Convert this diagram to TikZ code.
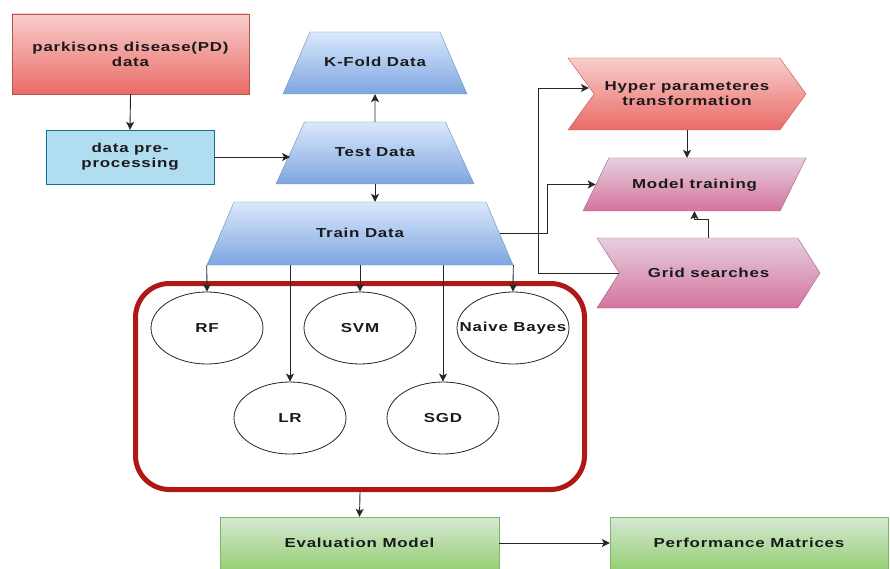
\documentclass[tikz,border=0pt]{standalone}
\usepackage{fontspec}
\setmainfont{Liberation Sans}[FakeStretch=1.3,LetterSpace=6]
\usetikzlibrary{shapes.geometric,shapes.symbols,arrows.meta,calc}
\definecolor{redT}{HTML}{F8CECC}
\definecolor{redB}{HTML}{EA6B66}
\definecolor{redS}{HTML}{B85450}
\definecolor{bluT}{HTML}{DAE8FC}
\definecolor{bluB}{HTML}{7EA6E0}
\definecolor{bluS}{HTML}{6C8EBF}
\definecolor{lbF}{HTML}{B1DDF0}
\definecolor{lbS}{HTML}{10739E}
\definecolor{pinT}{HTML}{E6D0DE}
\definecolor{pinB}{HTML}{D5739D}
\definecolor{pinS}{HTML}{996185}
\definecolor{grnT}{HTML}{D5E8D4}
\definecolor{grnB}{HTML}{97D077}
\definecolor{grnS}{HTML}{82B366}
\definecolor{frameR}{HTML}{B01818}
\definecolor{txt}{HTML}{1A1A1A}
\begin{document}
\begin{tikzpicture}[x=1pt,y=-1pt,
  base/.style={font=\fontsize{13}{15}\selectfont\bfseries, text=txt, align=center, inner sep=1pt},
  redbox/.style={base, rectangle, draw=redS, top color=redT, bottom color=redB},
  trapbase/.style={base, trapezium, trapezium stretches body=true, text height=11pt, text depth=3pt},
  bluetrap/.style={trapbase, draw=bluS, top color=bluT, bottom color=bluB},
  greenbox/.style={base, rectangle, draw=grnS, top color=grnT, bottom color=grnB},
  pinkshape/.style={base, draw=pinS, top color=pinT, bottom color=pinB},
  ell/.style={base, ellipse, draw=black!85, line width=0.8pt, fill=white, minimum width=112pt, minimum height=72pt, inner sep=0pt},
  arr/.style={draw=black!85, line width=0.9pt, -{Stealth[length=8pt,width=8pt,inset=2pt]}}
]
\useasboundingbox (0,0) rectangle (890,569);

% left column
\node[redbox, minimum width=237pt, minimum height=80pt] (pd) at (130.5,54) {parkisons disease(PD)\\data};
\node[base, rectangle, draw=lbS, fill=lbF, minimum width=168pt, minimum height=54pt] (pre) at (130,157) {data pre-\\processing};

% data trapezia
\node[bluetrap, minimum width=184pt, inner ysep=24pt, trapezium left angle=66.5, trapezium right angle=66.5] (kfold) at (375,63) {K-Fold Data};
\node[bluetrap, minimum width=198pt, inner ysep=24pt, trapezium left angle=65.3, trapezium right angle=65.3] (test) at (375,153) {Test Data};
\node[bluetrap, minimum width=306pt, inner ysep=24.5pt, trapezium left angle=66.8, trapezium right angle=66.8] (train) at (360,233.5) {Train Data};

% model group
\node[rectangle, rounded corners=34pt, draw=frameR, line width=5pt, minimum width=449pt, minimum height=206pt] (group) at (360,386.5) {};
\node[ell] (rf) at (207,328) {RF};
\node[ell] (svm) at (360,328) {SVM};
\node[ell, label={[base]center:Naive Bayes}] (nb) at (513,328) {};
\node[ell] (lr) at (290,418) {LR};
\node[ell] (sgd) at (443,418) {SGD};

% right side
\node[redbox, signal, signal from=west, signal to=east, signal pointer angle=108, minimum width=238pt, minimum height=72pt] (hyper) at (687,94) {Hyper parameteres\\transformation};
\node[pinkshape, trapbase, trapezium left angle=64, trapezium right angle=116, minimum width=223pt, inner ysep=19.5pt] (model) at (694.5,184.5) {Model training};
\node[pinkshape, signal, signal from=west, signal to=east, signal pointer angle=115, minimum width=223pt, minimum height=70pt] (grid) at (708.5,273) {Grid searches};

% bottom
\node[greenbox, minimum width=279pt, minimum height=52pt] (eval) at (359.5,543) {Evaluation Model};
\node[greenbox, minimum width=278pt, minimum height=52pt] (perf) at (749,543) {Performance Matrices};

% connectors
\draw[arr] (pd.south) -- (pre.north);
\draw[arr] (pre.east) -- (pre.east -| test.west);
\draw[arr] (test.north) -- (kfold.south);
\draw[arr] (test.south) -- (test.south |- train.north);
\draw[arr] (train.bottom left corner) -- (rf.north);
\draw[arr] (train.bottom right corner) -- (nb.north);
\draw[arr] (svm.north |- train.south) -- (svm.north);
\draw[arr] (lr.north |- train.south) -- (lr.north);
\draw[arr] (sgd.north |- train.south) -- (sgd.north);
\draw[arr] (group.south) -- (eval.north);
\draw[arr] (eval.east) -- (perf.west);
\draw[arr] (train.east) -- ++(48,0) |- (model.west);
\draw[arr] (grid.west) -- ++(-81,0) |- ([xshift=-5pt,yshift=6pt]hyper.west);
\draw[arr] (hyper.south) -- (hyper.south |- model.north);
\draw[arr] (grid.north) -- ++(0,-18) -| (model.south);
\end{tikzpicture}
\end{document}
